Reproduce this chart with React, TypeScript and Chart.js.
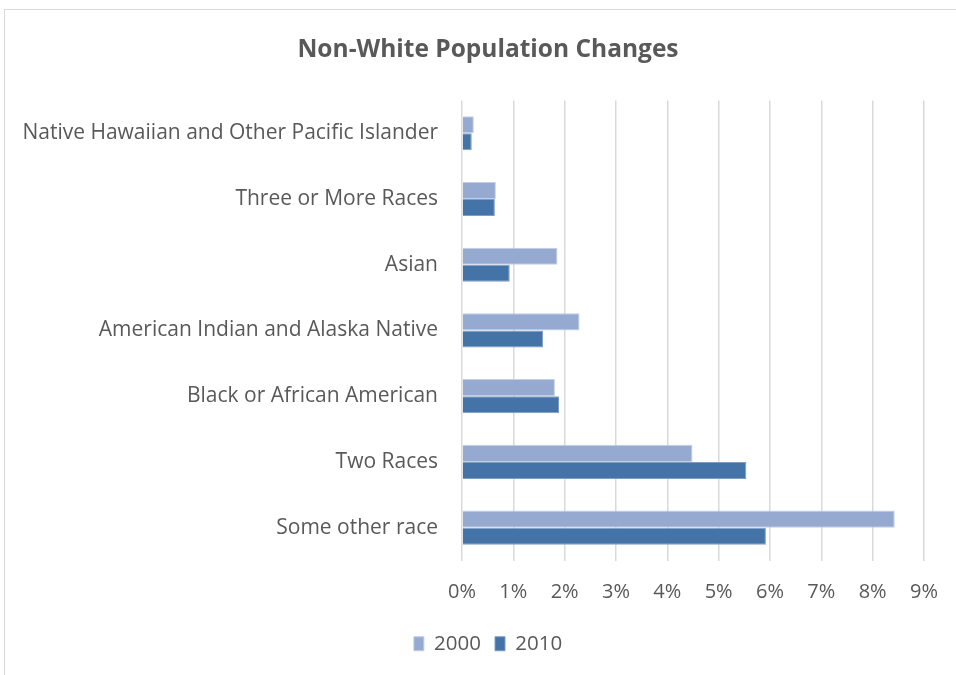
import React, { useEffect, useRef } from "react";
import { Chart, registerables } from "chart.js";

Chart.register(...registerables);

const categories = [
  "Native Hawaiian and Other Pacific Islander",
  "Three or More Races",
  "Asian",
  "American Indian and Alaska Native",
  "Black or African American",
  "Two Races",
  "Some other race",
];
const values2000 = [0.23, 0.66, 1.86, 2.29, 1.81, 4.49, 8.43];
const values2010 = [0.19, 0.64, 0.93, 1.58, 1.89, 5.54, 5.92];
const seriesLabels = ["2000", "2010"];
const xTickMax = 9;

const FONT = "'Open Sans', sans-serif";
const TEXT = "#595959";

export default function App() {
  const ref = useRef<HTMLCanvasElement | null>(null);
  useEffect(() => {
    const ctx = ref.current!;
    const chart = new Chart(ctx, {
      type: "bar",
      data: {
        labels: categories,
        datasets: [
          {
            label: seriesLabels[0],
            data: values2000,
            backgroundColor: "#95a9d1",
            borderColor: "#c3cfe6",
            borderWidth: 1,
            categoryPercentage: 0.52,
            barPercentage: 1,
          },
          {
            label: seriesLabels[1],
            data: values2010,
            backgroundColor: "#4473a7",
            borderColor: "#7f9cc4",
            borderWidth: 1,
            categoryPercentage: 0.52,
            barPercentage: 1,
          },
        ],
      },
      options: {
        indexAxis: "y",
        animation: false,
        responsive: false,
        maintainAspectRatio: false,
        layout: { padding: { top: 35, right: 0, bottom: 11, left: 20 } },
        scales: {
          x: {
            min: 0,
            max: xTickMax,
            ticks: {
              stepSize: 1,
              callback: (v: any) => v + "%",
              color: TEXT,
              font: { family: FONT, size: 20 },
              padding: 20,
            },
            grid: { color: "#d9d9d9", lineWidth: 1.5, drawTicks: false },
            border: { display: false },
            afterFit: (s: any) => {
              s.height = 59;
              s.paddingRight = 32;
            },
          },
          y: {
            ticks: {
              color: TEXT,
              font: { family: FONT, size: 21 },
              padding: 24,
            },
            grid: { display: false, drawTicks: false },
            border: { display: false },
            afterFit: (s: any) => {
              s.width = 442;
            },
          },
        },
        plugins: {
          title: {
            display: true,
            text: "Non-White Population Changes",
            color: TEXT,
            font: { family: FONT, size: 24.5, weight: "bold" },
            padding: { top: 0, bottom: 36 },
          },
          legend: {
            position: "bottom",
            labels: {
              color: TEXT,
              font: { family: FONT, size: 20.5 },
              boxWidth: 10,
              boxHeight: 14,
              padding: 14,
            },
          },
          tooltip: { enabled: false },
        },
      },
    } as any);
    return () => chart.destroy();
  }, []);
  return (
    <div style={{ position: "absolute", left: 0, top: 0, width: 956, height: 675, background: "#fff", overflow: "hidden" }}>
      <div
        style={{
          position: "absolute",
          left: 4,
          top: 9,
          width: 960,
          height: 700,
          border: "1.5px solid #d9d9d9",
          boxSizing: "border-box",
        }}
      />
      <canvas ref={ref} width={956} height={675} style={{ position: "absolute", left: 0, top: 0 }} />
    </div>
  );
}
